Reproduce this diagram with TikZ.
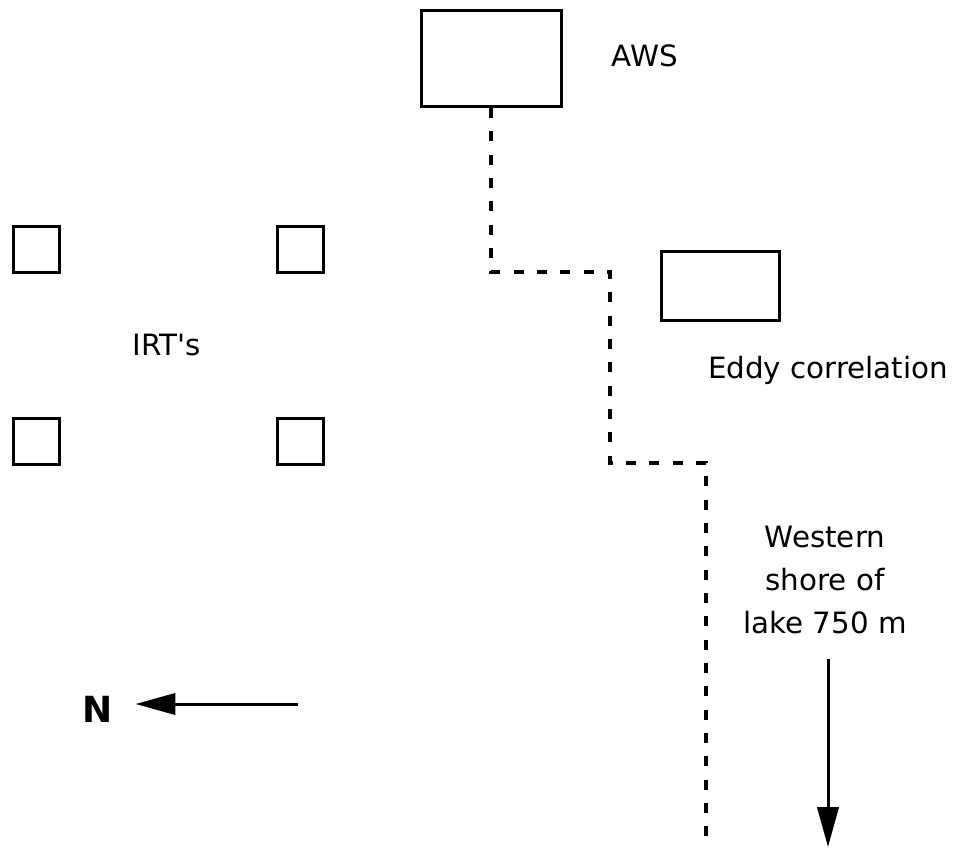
\documentclass[tikz,border=0pt]{standalone}
\usepackage{fontspec}
\setmainfont{DejaVu Sans}
\usepackage{tikz}
\usetikzlibrary{arrows.meta}
\tikzset{ site_box/.style = {rectangle, draw, line width=2.25pt, inner sep=0pt} }
\tikzset{ site_label/.style = {inner sep=0pt, font=\fontsize{22pt}{32.25pt}\selectfont} }
\tikzset{ cable/.style = {line width=3pt, dash pattern=on 7.5pt off 10pt} }
\tikzset{ dir_arrow/.style = {line width=2.25pt, -{Triangle[length=30pt, width=16pt]}} }

\begin{document}
\begin{tikzpicture}[x=0.75pt, y=-0.75pt]
    \useasboundingbox (0,0) rectangle (964,849);
    \node[site_box, minimum width=105pt, minimum height=72pt] (aws) at (491,58.5) {};
    \node[site_label, anchor=base] (awslabel) at (645,67) {AWS};
    \node[site_box, minimum width=88.5pt, minimum height=51.75pt] (eddy) at (720.5,286) {};
    \node[site_label, anchor=base] (eddylabel) at (828,378) {Eddy correlation};
    \node[site_box, minimum size=34.5pt] (irt1) at (36.5,249.5) {};
    \node[site_box, minimum size=34.5pt] (irt2) at (300,249.5) {};
    \node[site_box, minimum size=34.5pt] (irt3) at (36.5,441.5) {};
    \node[site_box, minimum size=34.5pt] (irt4) at (300,441.5) {};
    \node[site_label, anchor=base] (irtlabel) at (167,355) {IRT\textquotesingle s};
    \node[site_label, align=center] (shore) at (825,580) {Western\\shore of\\lake 750 m};
    \node[site_label, font=\fontsize{27pt}{30pt}\selectfont\bfseries, anchor=base] (north) at (97.5,722) {N};
    \coordinate (bend1) at (610,272);
    \coordinate (bend2) at (706,463);
    \coordinate (shoreline) at (706,849);
    \draw[cable] (aws.south) |- (bend1) |- (bend2) -- (shoreline);
    \coordinate (ntail) at (298,704);
    \draw[dir_arrow] (ntail) -- ([xshift=17pt]north.east |- ntail);
    \coordinate (lakeend) at (828,847);
    \draw[dir_arrow] (lakeend |- shore.south) ++(0,25) -- (lakeend);
\end{tikzpicture}
\end{document}
